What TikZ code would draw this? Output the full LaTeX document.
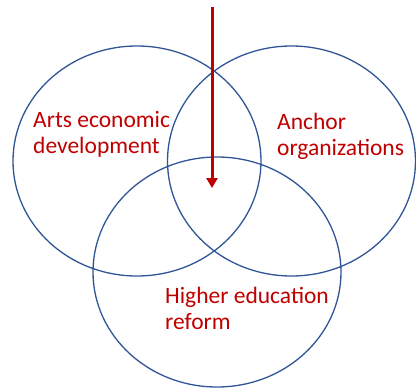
\documentclass[tikz,border=0pt]{standalone}
\usepackage{fontspec}
\setmainfont{Carlito}
\usetikzlibrary{positioning}
\usetikzlibrary{shapes.geometric}
\usetikzlibrary {arrows.meta}
\definecolor{vennblue}{RGB}{47,85,151}
\definecolor{vennred}{RGB}{192,0,0}
\tikzset{venn/.style={ellipse,draw=vennblue,line width=1.3pt,
inner sep=0pt,minimum width=248pt, minimum height=230pt}}
\tikzset{vennlabel/.style={text=vennred,align=left,anchor=base west,
inner sep=0pt,font=\fontsize{23.5pt}{26pt}\selectfont}}

\begin{document}
\begin{tikzpicture}[x=1pt,y=-1pt]
        \useasboundingbox (0,0) rectangle (416,389);

        \node[venn] (arts) at (137, 161) {};
        \node[venn] (anchor) at (291.5, 161) {};
        \node[venn] (higher) at (217, 272) {};

        \node[vennlabel] (artsText) at (33, 153) {Arts economic\\development};
        \node[vennlabel] (anchorText) at (277, 155) {Anchor\\organizations};
        \node[vennlabel] (higherText) at (165, 329) {Higher education\\reform};

        \coordinate (arrowTop) at (212, 7);
        \coordinate (arrowTip) at (212, 188);
        \draw [vennred,line width=3pt,-{Triangle[length=10pt,width=11pt]}] (arrowTop) -- (arrowTip);

    \end{tikzpicture}
\end{document}
